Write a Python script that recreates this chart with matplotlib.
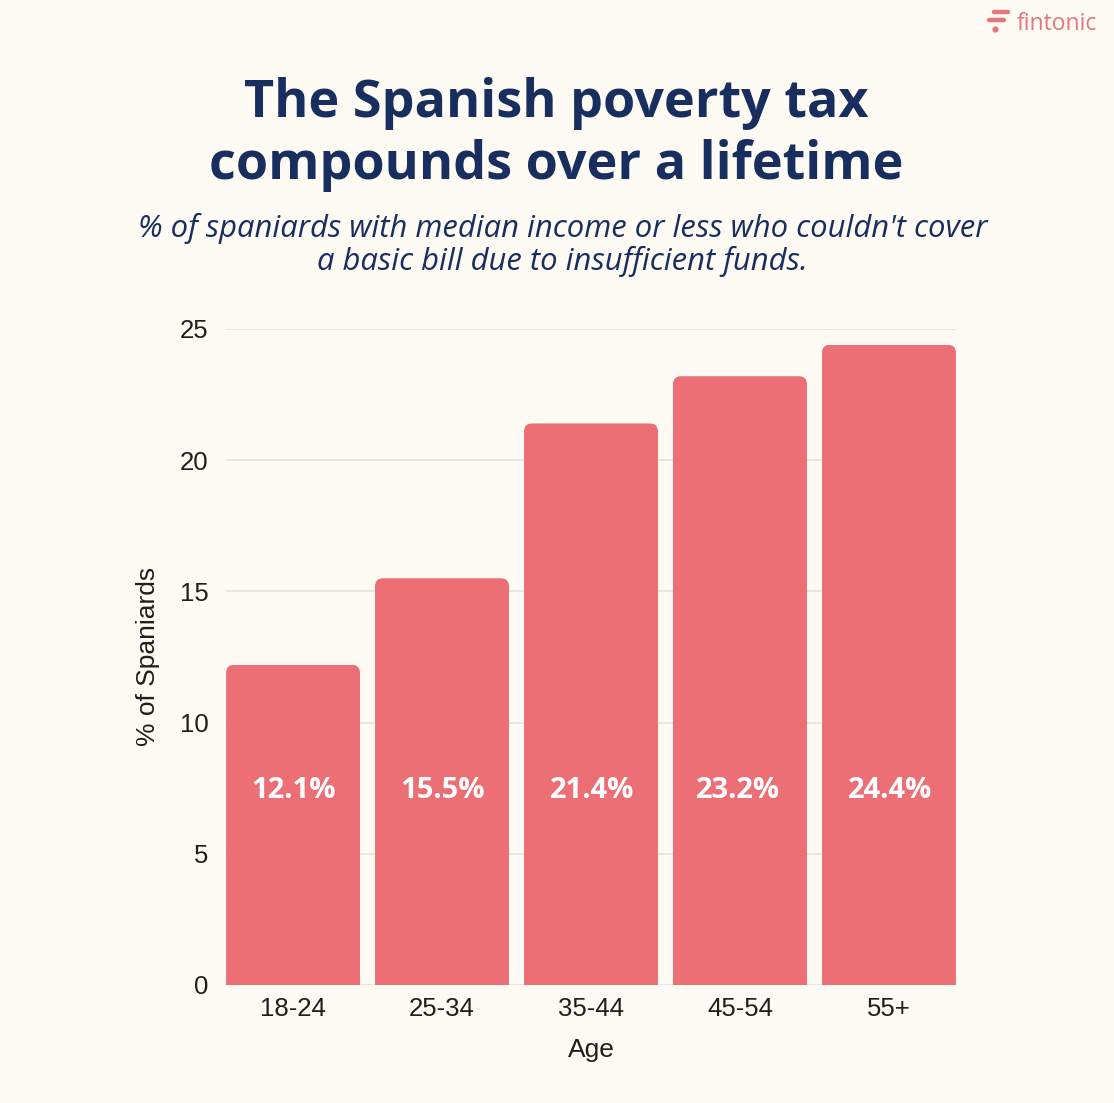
import matplotlib
matplotlib.use("Agg")
import matplotlib.pyplot as plt
from matplotlib.patches import FancyBboxPatch
from matplotlib.lines import Line2D

categories = ["18-24", "25-34", "35-44", "45-54", "55+"]
values = [12.2, 15.5, 21.4, 23.2, 24.4]
labels = ["12.1%", "15.5%", "21.4%", "23.2%", "24.4%"]
yticks = [0, 5, 10, 15, 20, 25]

W, H = 1114, 1103
BG = "#FEFAF4"; RED = "#EB6F75"; NAVY = "#182E5F"; INK = "#1E1E1E"

fig = plt.figure(figsize=(W/100, H/100), dpi=100, facecolor=BG)
L, R, T, B = 226, 956, 329, 985
ax = fig.add_axes([L/W, 1-B/H, (R-L)/W, (B-T)/H], facecolor="none")
ax.set_xlim(-0.45, 4.45)
ax.set_ylim(0, 25)
ax.set_axisbelow(True)
ax.grid(axis="y", color="#E6E2DA", lw=1.2)
for s in ax.spines.values():
    s.set_visible(False)

bars = ax.bar(range(len(values)), values, width=0.899, color=RED, zorder=2)
px_x = (R-L)/4.9
px_y = (B-T)/25
for bar in bars:
    clip = FancyBboxPatch((bar.get_x(), -2), bar.get_width(), bar.get_height()+2,
                          boxstyle=f"round,pad=0,rounding_size={8/px_x}",
                          mutation_aspect=px_x/px_y, transform=ax.transData)
    bar.set_clip_path(clip)

for i, t in enumerate(labels):
    ax.text(i + [0, 0, 0.01, -0.01, 0.01][i], 7.42, t, color="white", fontsize=21, fontweight="bold",
            family="Open Sans", ha="center", va="center", zorder=3)

ax.set_xticks(range(len(categories)), categories)
ax.set_yticks(yticks)
ax.tick_params(axis="both", length=0, labelsize=18.5, labelcolor=INK)
ax.tick_params(axis="x", pad=9)
ax.tick_params(axis="y", pad=12.5)
for t in ax.get_xticklabels() + ax.get_yticklabels():
    t.set_family("Liberation Sans")

def T_(x, y, s, **k):
    fig.text(x/W, 1-y/H, s, ha=k.pop("ha", "center"), va=k.pop("va", "center"), **k)

T_(591, 1050, "Age", fontsize=19, color=INK, family="Liberation Sans")
T_(148, 656, "% of Spaniards", fontsize=19, color=INK, family="Liberation Sans", rotation=90)

T_(556, 103, "The Spanish poverty tax", fontsize=37.5, fontweight="bold", color=NAVY, family="Open Sans")
T_(556, 166, "compounds over a lifetime", fontsize=37.5, fontweight="bold", color=NAVY, family="Open Sans")
T_(563, 228, "% of spaniards with median income or less who couldn't cover", fontsize=22.3,
   style="italic", color=NAVY, family="Open Sans")
T_(562, 261, "a basic bill due to insufficient funds.", fontsize=22.3,
   style="italic", color=NAVY, family="Open Sans")

LOGO = "#E4777D"
T_(1056.5, 24, "fintonic", fontsize=16.5, color=LOGO, family="Open Sans")
for (x0, x1, y) in [(994, 1008, 12), (989, 1004, 20)]:
    fig.add_artist(Line2D([x0/W, x1/W], [1-y/H, 1-y/H], color=LOGO, lw=3.2,
                          solid_capstyle="round", transform=fig.transFigure))
fig.add_artist(Line2D([995/W], [1-29/H], marker="o", ms=4.5, color=LOGO, mew=0,
                      transform=fig.transFigure))

fig.savefig("out.png", dpi=100, facecolor=BG)
